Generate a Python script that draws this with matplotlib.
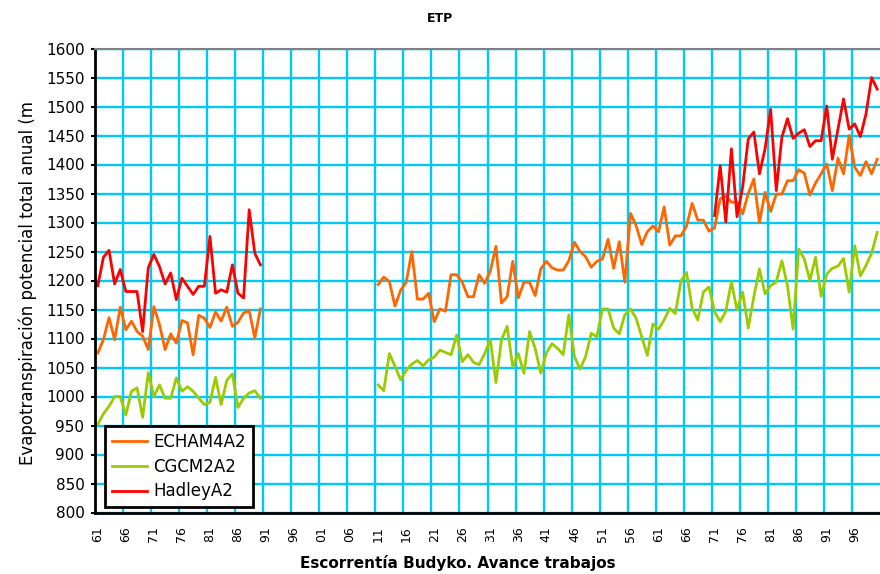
import numpy as np
import matplotlib.pyplot as plt

# categories: every year 1961-2100 (gap 1991-2010 has no data)
YEARS = list(range(1961, 2101))

# ECHAM4 A2
ECHAM_1961_1990 = [
    1075, 1098, 1136, 1098, 1154, 1115, 1130, 1112, 1104, 1081,
    1155, 1124, 1081, 1108, 1092, 1131, 1127, 1072, 1140, 1135,
    1119, 1146, 1130, 1154, 1121, 1128, 1144, 1148, 1101, 1151,
]
ECHAM_2011_2100 = [
    1193, 1206, 1198, 1156, 1183, 1197, 1250, 1168, 1168, 1178,
    1129, 1151, 1147, 1210, 1210, 1197, 1172, 1172, 1210, 1195,
    1216, 1259, 1161, 1172, 1233, 1170, 1197, 1197, 1174, 1220,
    1233, 1222, 1218, 1218, 1234, 1266, 1250, 1241, 1223, 1233,
    1237, 1271, 1221, 1267, 1197, 1316, 1295, 1262, 1284, 1294,
    1284, 1327, 1261, 1277, 1277, 1294, 1333, 1304, 1304, 1285,
    1291, 1341, 1346, 1335, 1335, 1315, 1350, 1375, 1300, 1352,
    1319, 1349, 1349, 1372, 1372, 1391, 1385, 1347, 1368, 1384,
    1401, 1355, 1411, 1384, 1450, 1395, 1381, 1405, 1384, 1409,
]

# CGCM2 A2
CGCM_1961_1990 = [
    952, 970, 983, 1000, 1000, 968, 1009, 1015, 964, 1041,
    1000, 1020, 997, 997, 1032, 1009, 1017, 1009, 997, 986,
    990, 1033, 986, 1028, 1039, 981, 997, 1006, 1010, 997,
]
CGCM_2011_2100 = [
    1020, 1010, 1074, 1052, 1029, 1045, 1056, 1062, 1053, 1063,
    1068, 1080, 1076, 1072, 1106, 1060, 1072, 1059, 1055, 1074,
    1098, 1024, 1098, 1121, 1051, 1074, 1040, 1112, 1083, 1040,
    1075, 1091, 1083, 1072, 1141, 1069, 1047, 1069, 1109, 1103,
    1151, 1151, 1118, 1108, 1141, 1151, 1135, 1103, 1071, 1125,
    1116, 1132, 1152, 1143, 1199, 1214, 1152, 1132, 1180, 1189,
    1146, 1129, 1147, 1198, 1149, 1180, 1118, 1172, 1220, 1177,
    1191, 1198, 1234, 1191, 1116, 1254, 1237, 1200, 1240, 1173,
    1211, 1221, 1225, 1238, 1180, 1260, 1208, 1226, 1247, 1283,
]

# Hadley A2
HADLEY_1961_1990 = [
    1191, 1240, 1252, 1194, 1219, 1181, 1181, 1181, 1112, 1222,
    1245, 1224, 1194, 1213, 1167, 1204, 1190, 1176, 1190, 1190,
    1276, 1178, 1184, 1180, 1227, 1178, 1170, 1322, 1247, 1227,
]
HADLEY_2071_2100 = [
    1312, 1398, 1301, 1427, 1310, 1361, 1444, 1456, 1384, 1427,
    1495, 1355, 1447, 1479, 1445, 1454, 1460, 1431, 1441, 1441,
    1501, 1409, 1461, 1513, 1461, 1470, 1448, 1487, 1550, 1530,
]


def full_series(parts):
    vals = np.full(len(YEARS), np.nan)
    for start, data in parts:
        i = YEARS.index(start)
        vals[i:i + len(data)] = data
    return vals


echam = full_series([(1961, ECHAM_1961_1990), (2011, ECHAM_2011_2100)])
cgcm = full_series([(1961, CGCM_1961_1990), (2011, CGCM_2011_2100)])
hadley = full_series([(1961, HADLEY_1961_1990), (2071, HADLEY_2071_2100)])

grid_col = "#00C8F8"

fig = plt.figure(figsize=(8.8, 5.74), dpi=100)
ax = fig.add_axes([95 / 880, 61.5 / 574, 785 / 880, 464 / 574])

x = np.arange(len(YEARS))
ax.plot(x, echam, color="#FF6600", lw=2.0, label="ECHAM4A2")
ax.plot(x, cgcm, color="#99CC00", lw=2.0, label="CGCM2A2")
ax.plot(x, hadley, color="#FF0000", lw=2.0, label="HadleyA2")

ax.set_xlim(-0.5, len(YEARS) - 0.5)
ax.set_ylim(800, 1600)
ax.set_yticks(range(800, 1601, 50))

ax.set_xticks(x[::5])
ax.set_xticklabels([f"{y % 100:02d}" for y in YEARS[::5]])
ax.set_xticks(np.arange(4.5, len(YEARS) - 1, 5), minor=True)

ax.set_axisbelow(True)
ax.yaxis.grid(True, color=grid_col, lw=1.7)
ax.xaxis.grid(True, which="minor", color=grid_col, lw=1.7)

ax.tick_params(axis="x", which="both", length=0, pad=10, labelsize=9, labelrotation=90)
ax.tick_params(axis="y", length=2.6, width=1.5, pad=5, labelsize=11)

ax.spines["left"].set_linewidth(2)
ax.spines["bottom"].set_linewidth(2)
ax.spines["top"].set_color("#808080")
ax.spines["top"].set_linewidth(1.5)
ax.spines["right"].set_visible(False)

leg = ax.legend(loc="lower left", bbox_to_anchor=(105 / 880, 67 / 574),
                bbox_transform=fig.transFigure, fontsize=12, handlelength=2.1,
                handletextpad=0.4, labelspacing=0.4, borderpad=0.4,
                borderaxespad=0, fancybox=False, framealpha=1)
leg.get_frame().set_edgecolor("black")
leg.get_frame().set_linewidth(2)

fig.text(440 / 880, 1 - 18 / 574, "ETP", fontsize=9, fontweight="bold",
         ha="center", va="center")
fig.text(27.5 / 880, 1 - 283 / 574, "Evapotranspiración potencial total anual (m",
         rotation=90, fontsize=12, ha="center", va="center")
fig.text(458 / 880, 1 - 563 / 574, "Escorrentía Budyko. Avance trabajos",
         fontsize=11, fontweight="bold", ha="center", va="center")

fig.savefig("out.png", dpi=100)
